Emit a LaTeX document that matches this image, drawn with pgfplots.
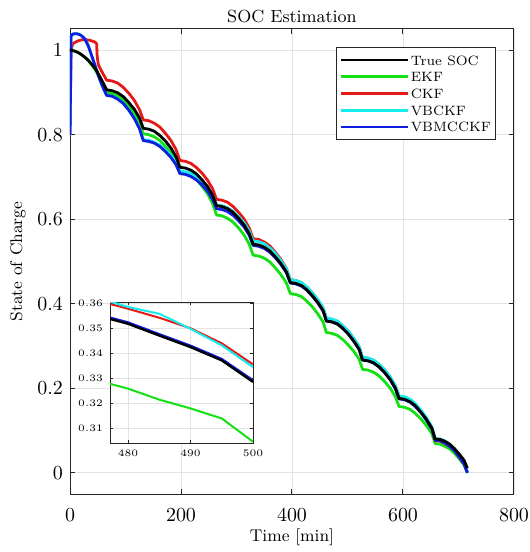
\documentclass[border=0pt]{standalone}
\usepackage{pgfplots}
\usepackage{pgfplotstable}
\pgfplotsset{compat=1.18}
\definecolor{mGreen}{RGB}{20,225,20}
\definecolor{mRed}{RGB}{230,25,25}
\definecolor{mCyan}{RGB}{20,235,235}
\definecolor{mBlue}{RGB}{15,30,225}
\definecolor{axgray}{RGB}{38,38,38}

% SOC traces, main plot
\pgfplotstableread{
t true ekf ckf vbckf vbm
0 1.000 1.000 0.800 0.800 0.800
2 1.000 1.000 1.000 1.034 1.034
5 0.999 0.999 1.015 1.038 1.038
10 0.997 0.997 1.019 1.039 1.039
15 0.994 0.994 1.022 1.038 1.038
20 0.990 0.990 1.024 1.035 1.035
27 0.983 0.983 1.025 1.026 1.026
33 0.976 0.975 1.024 1.010 1.010
39 0.967 0.965 1.022 0.987 0.987
45 0.957 0.954 1.019 0.964 0.964
48 0.951 0.947 1.015 0.952 0.952
49 0.949 0.945 0.985 0.948 0.948
51 0.944 0.940 0.966 0.940 0.940
55 0.934 0.929 0.955 0.926 0.926
60 0.922 0.916 0.943 0.910 0.910
66 0.906 0.899 0.929 0.893 0.893
76 0.904 0.897 0.927 0.891 0.891
86 0.899 0.891 0.922 0.885 0.884
96 0.890 0.882 0.912 0.874 0.874
106 0.876 0.867 0.898 0.858 0.858
116 0.860 0.850 0.881 0.839 0.838
125 0.840 0.828 0.860 0.816 0.815
132 0.815 0.802 0.835 0.788 0.786
142 0.813 0.800 0.833 0.787 0.784
152 0.808 0.795 0.827 0.782 0.780
162 0.798 0.786 0.818 0.775 0.772
172 0.785 0.772 0.803 0.764 0.760
182 0.768 0.756 0.786 0.750 0.746
191 0.748 0.736 0.765 0.734 0.729
198 0.723 0.711 0.739 0.714 0.708
208 0.721 0.709 0.737 0.712 0.706
218 0.716 0.703 0.732 0.708 0.701
228 0.707 0.693 0.722 0.700 0.693
238 0.693 0.678 0.709 0.688 0.681
248 0.677 0.660 0.692 0.673 0.666
257 0.657 0.637 0.672 0.656 0.647
264 0.632 0.610 0.647 0.634 0.625
274 0.630 0.608 0.645 0.632 0.623
284 0.625 0.602 0.640 0.627 0.618
294 0.616 0.593 0.630 0.619 0.609
304 0.602 0.579 0.616 0.606 0.596
314 0.586 0.562 0.600 0.591 0.581
323 0.566 0.541 0.579 0.572 0.562
330 0.541 0.515 0.554 0.549 0.538
340 0.539 0.513 0.552 0.547 0.536
350 0.534 0.508 0.546 0.542 0.531
360 0.525 0.499 0.537 0.532 0.522
370 0.511 0.485 0.522 0.519 0.509
380 0.495 0.469 0.505 0.502 0.493
390 0.475 0.449 0.483 0.482 0.473
397 0.450 0.424 0.457 0.457 0.449
407 0.448 0.422 0.455 0.455 0.447
417 0.443 0.417 0.450 0.450 0.442
426 0.434 0.407 0.440 0.441 0.433
436 0.420 0.394 0.427 0.427 0.419
446 0.404 0.377 0.410 0.411 0.403
456 0.384 0.357 0.390 0.391 0.383
462 0.359 0.332 0.365 0.366 0.359
472 0.357 0.330 0.363 0.364 0.357
482 0.352 0.325 0.358 0.359 0.352
491 0.342 0.316 0.348 0.349 0.343
501 0.329 0.303 0.335 0.336 0.329
511 0.312 0.288 0.318 0.319 0.312
521 0.292 0.269 0.298 0.299 0.292
527 0.267 0.245 0.273 0.274 0.267
537 0.265 0.243 0.271 0.272 0.265
547 0.260 0.238 0.266 0.267 0.260
557 0.251 0.229 0.256 0.257 0.250
567 0.237 0.216 0.243 0.244 0.237
577 0.221 0.200 0.226 0.227 0.220
586 0.201 0.181 0.206 0.207 0.200
593 0.176 0.157 0.181 0.182 0.175
603 0.174 0.155 0.179 0.180 0.173
613 0.168 0.150 0.173 0.174 0.167
622 0.159 0.141 0.162 0.164 0.157
632 0.144 0.128 0.146 0.149 0.143
642 0.127 0.112 0.127 0.131 0.125
652 0.106 0.093 0.104 0.109 0.104
658 0.080 0.069 0.076 0.082 0.077
667 0.079 0.068 0.075 0.080 0.076
675 0.075 0.063 0.070 0.076 0.071
684 0.068 0.057 0.063 0.068 0.063
693 0.057 0.046 0.052 0.056 0.052
701 0.045 0.034 0.038 0.042 0.038
710 0.030 0.019 0.022 0.024 0.021
716 0.011 0.000 0.002 0.003 0.000
}\soc

% zoomed window 477-500 min
\pgfplotstableread{
t true ekf ckf vbckf vbm
477 0.3538 0.3279 0.3598 0.3608 0.3544
480 0.3518 0.3259 0.3578 0.3585 0.3524
485 0.3471 0.3215 0.3542 0.3558 0.3477
490 0.3425 0.3180 0.3500 0.3498 0.3431
495 0.3372 0.3140 0.3440 0.3432 0.3378
500 0.3286 0.3047 0.3356 0.3345 0.3293
}\soczoom

\begin{document}
\begin{tikzpicture}
\useasboundingbox (-35bp,-29bp) rectangle (230bp,247bp);
\begin{axis}[
    at={(0,0)}, anchor=south west,
    scale only axis, width=222bp, height=232.5bp,
    xmin=0, xmax=800, ymin=-0.05, ymax=1.05,
    xtick={0,200,400,600,800},
    ytick={0,0.2,0.4,0.6,0.8,1},
    tick align=inside, major tick length=2.5bp,
    grid=major, grid style={gray!22, line width=0.4pt},
    axis line style={axgray, line width=0.5pt},
    tick style={axgray, line width=0.5pt},
    ticklabel style={font=\fontsize{10}{12}\selectfont},
    xticklabel style={anchor=base, yshift=-13.9bp},
    xlabel={Time [min]}, ylabel={State of Charge},
    title={SOC Estimation},
    every axis title shift=0pt,
    label style={font=\fontsize{8.5}{10}\selectfont},
    xlabel style={at={([yshift=-23.5bp]axis description cs:0.5,0)}, anchor=base},
    ylabel style={at={([xshift=-26bp]axis description cs:0,0.5)}, anchor=center},
    title style={at={([yshift=3.2bp]axis description cs:0.5,1)}, anchor=base,
        font=\fontsize{8.8}{10}\selectfont},
    no markers,
    every axis plot/.append style={line width=1.4pt, line join=round},
    legend cell align=left,
    legend image code/.code={\draw[#1] (0bp,0bp) -- (33.5bp,0bp);},
    legend style={at={(1,1)}, anchor=north east, xshift=-9bp, yshift=-9.2bp,
        draw=axgray, line width=0.5pt, fill=white,
        font=\fontsize{6.8}{7.5}\selectfont,
        inner xsep=1.5bp, inner ysep=0.8bp, row sep=-2.2bp,
        nodes={inner sep=0.8bp, text height=0.7em, text depth=0.2em}},
]
\addlegendimage{black, line width=1.4pt}
\addlegendentry{True SOC}
\addplot[mGreen] table[x=t, y=ekf]{\soc};
\addlegendentry{EKF}
\addplot[mRed] table[x=t, y=ckf]{\soc};
\addlegendentry{CKF}
\addplot[mCyan] table[x=t, y=vbckf]{\soc};
\addlegendentry{VBCKF}
\addplot[mBlue] table[x=t, y=vbm]{\soc};
\addlegendentry{VBMCCKF}
% true SOC on top
\addplot[black, forget plot] table[x=t, y=true]{\soc};
\end{axis}

% inset
\begin{axis}[
    at={(20bp,25.5bp)}, anchor=south west,
    scale only axis, width=71.5bp, height=70.5bp,
    xmin=477.1, xmax=500, ymin=0.3042, ymax=0.3605,
    xtick={480,490,500},
    ytick={0.31,0.32,0.33,0.34,0.35,0.36},
    scaled x ticks=false, scaled y ticks=false,
    yticklabel style={/pgf/number format/.cd, fixed, precision=2, fixed zerofill},
    tick align=inside, major tick length=1.5bp,
    grid=major, grid style={gray!22, line width=0.3pt},
    axis line style={axgray, line width=0.5pt},
    tick style={axgray, line width=0.4pt},
    ticklabel style={font=\fontsize{4.6}{5}\selectfont},
    axis background/.style={fill=white},
    no markers,
    every axis plot/.append style={line width=1pt, line join=round},
]
\addplot[mGreen] table[x=t, y=ekf]{\soczoom};
\addplot[mRed] table[x=t, y=ckf]{\soczoom};
\addplot[mCyan] table[x=t, y=vbckf]{\soczoom};
\addplot[mBlue] table[x=t, y=vbm]{\soczoom};
\addplot[black, line width=1.2pt] table[x=t, y=true]{\soczoom};
\end{axis}
\end{tikzpicture}
\end{document}
